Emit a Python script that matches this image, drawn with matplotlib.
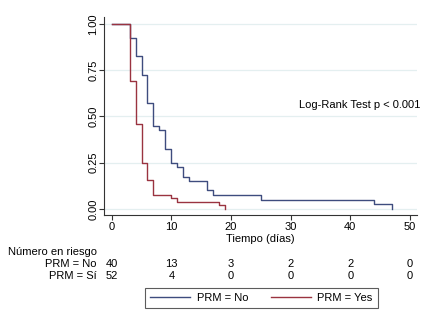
import matplotlib
matplotlib.use("Agg")
import matplotlib.pyplot as plt
from matplotlib.lines import Line2D
from matplotlib.transforms import blended_transform_factory

plt.rcParams["font.family"] = ["Liberation Sans", "DejaVu Sans"]
plt.rcParams["font.size"] = 8

# Kaplan-Meier estimates (time in days, survival probability)
no_time = [0, 3, 4, 5, 6, 7, 8, 9, 10, 11, 12, 13, 16, 17, 25, 44, 47]
no_surv = [1.0, 0.925, 0.825, 0.725, 0.575, 0.45, 0.425, 0.325, 0.25,
           0.225, 0.175, 0.15, 0.10, 0.075, 0.05, 0.025, 0.0]
si_time = [0, 3, 4, 5, 6, 7, 10, 11, 18, 19]
si_surv = [1.0, 0.692, 0.462, 0.25, 0.154, 0.077, 0.058, 0.038, 0.019, 0.0]

# number at risk
risk_times = [0, 10, 20, 30, 40, 50]
risk_no = [40, 13, 3, 2, 2, 0]
risk_si = [52, 4, 0, 0, 0, 0]

navy = "#3e4c7e"
maroon = "#9a3340"
grid_col = "#e4eff0"

W, H = 431, 328
fig = plt.figure(figsize=(W / 100, H / 100), dpi=100)


def fx(px):
    return px / W


def fy(py):
    return 1 - py / H


ax = fig.add_axes([fx(104), fy(214.7), fx(416.7) - fx(104), fy(17) - fy(214.7)])

ax.step(no_time, no_surv, where="post", color=navy, lw=1.0)
ax.step(si_time, si_surv, where="post", color=maroon, lw=1.0)

ax.set_xlim(-1.29, 51.12)
ax.set_ylim(-0.031, 1.038)
ax.set_xticks([0, 10, 20, 30, 40, 50])
ax.set_yticks([0, 0.25, 0.5, 0.75, 1.0])
ax.set_yticklabels(["0.00", "0.25", "0.50", "0.75", "1.00"], rotation=90, va="center")
for y in [0, 0.25, 0.5, 0.75, 1.0]:
    ax.axhline(y, color=grid_col, lw=0.9, zorder=0)

for s in ["top", "right"]:
    ax.spines[s].set_visible(False)
for s in ["left", "bottom"]:
    ax.spines[s].set_color("#333333")
    ax.spines[s].set_linewidth(0.8)
ax.tick_params(direction="out", length=3.5, width=0.8, color="#333333", labelsize=8)
ax.tick_params(axis="x", pad=2)
ax.tick_params(axis="y", pad=0.5)

ax.set_xlabel("Tiempo (días)", fontsize=8, labelpad=1)

fig.text(fx(420), fy(105), "Log-Rank Test p < 0.001", ha="right", va="center", fontsize=8)

# risk table below the axis
tr = blended_transform_factory(ax.transData, fig.transFigure)
fig.text(fx(8), fy(252), "Número en riesgo", ha="left", va="center", fontsize=8)
fig.text(fx(97), fy(264), "PRM = No", ha="right", va="center", fontsize=8)
fig.text(fx(97), fy(276), "PRM = Sí", ha="right", va="center", fontsize=8)
for t, a, b in zip(risk_times, risk_no, risk_si):
    ax.text(t, fy(264), str(a), transform=tr, ha="center", va="center", fontsize=8)
    ax.text(t, fy(276), str(b), transform=tr, ha="center", va="center", fontsize=8)

handles = [Line2D([], [], color=navy, lw=1.0), Line2D([], [], color=maroon, lw=1.0)]
leg = fig.legend(handles, ["PRM = No", "PRM = Yes"], loc="center",
                 bbox_to_anchor=(fx(261.5), fy(298)), ncol=2, frameon=True,
                 fancybox=False, edgecolor="#333333", fontsize=8,
                 handlelength=3.6, handletextpad=0.6, columnspacing=2.0,
                 borderpad=0.45)
leg.get_frame().set_linewidth(0.8)

fig.savefig("out.png", dpi=100)
